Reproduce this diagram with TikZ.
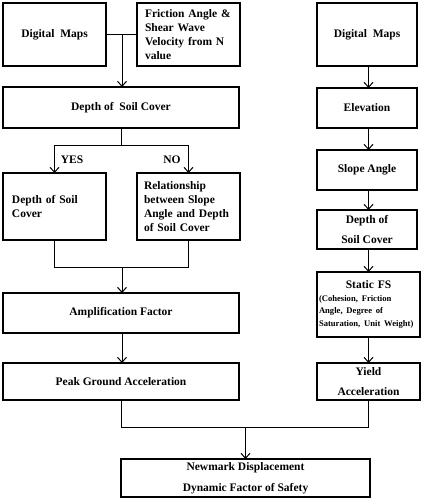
\documentclass[tikz,border=0pt]{standalone}
\usepackage{fontspec}
\setmainfont{Liberation Serif}
\usetikzlibrary{arrows.meta}
\begin{document}
\begin{tikzpicture}[x=1pt,y=-1pt,
  box/.style={draw, line width=1.1pt, inner sep=0pt, outer sep=0pt,
    font=\fontsize{11.5}{13.8}\selectfont\bfseries, align=center},
  lbox/.style={box, align=left},
  conn/.style={line width=1pt},
  arr/.style={conn, -{Straight Barb[length=5pt,width=9pt,line width=1pt]}},
  lbl/.style={font=\fontsize{11.5}{13.8}\selectfont\bfseries, inner sep=0pt}
]
\useasboundingbox (0,0) rectangle (422,500);
% left column
\node[box, minimum width=103, minimum height=63] (dm1) at (54.5,34.5) {Digital\ \ Maps};
\node[lbox, minimum width=103, minimum height=63, text width=87] (fa) at (188.5,34.5)
  {Friction Angle \&\\Shear Wave\\Velocity from N\\value};
\node[box, minimum width=236, minimum height=41] (dsc) at (121,107.5) {Depth of\ \ Soil Cover};
\node[lbox, minimum width=103, minimum height=67, text width=85] (ds2) at (54.5,206.5)
  {Depth of Soil\\Cover};
\node[lbox, minimum width=103, minimum height=67, text width=89] (rel) at (188.5,206.5)
  {Relationship\\between Slope\\Angle and Depth\\of Soil Cover};
\node[box, minimum width=236, minimum height=40] (amp) at (121,313) {Amplification Factor};
\node[box, minimum width=236, minimum height=37] (pga) at (121,381.5) {Peak Ground Acceleration};
% right column
\node[box, minimum width=100, minimum height=63] (dm2) at (367,34.5) {Digital\ \ Maps};
\node[box, minimum width=100, minimum height=40] (elev) at (367,108) {Elevation};
\node[box, minimum width=100, minimum height=40] (slope) at (367,170) {Slope Angle};
\node[box, minimum width=100, minimum height=39] (ds3) at (367,229.5) {Depth of\\[7pt]Soil Cover};
\node[lbox, minimum width=103, minimum height=65, text width=99] (sfs) at (368.5,304.5)
  {\makebox[99pt][c]{Static FS}\\[2pt]
   {\fontsize{8.6}{11.5}\selectfont (Cohesion, Friction\\Angle, Degree of\\Saturation, Unit Weight)}};
\node[box, minimum width=103, minimum height=37] (ya) at (368.5,381.5) {Yield\\[7pt]Acceleration};
% bottom
\node[box, minimum width=249, minimum height=38] (nm) at (245.5,478) {Newmark Displacement\\[7pt]Dynamic Factor of Safety};
% junction coordinates
\coordinate (j1) at (122,35);
\coordinate (j2) at (121,145);
\coordinate (j2l) at (54.5,145);
\coordinate (j2r) at (188.5,145);
\coordinate (j3l) at (54.5,267);
\coordinate (j3r) at (188.5,267);
\coordinate (j3) at (122,267);
\coordinate (j4l) at (121,427);
\coordinate (j4r) at (368.5,427);
\coordinate (j4) at (245.5,427);
% connectors
\draw[conn] (dm1.east) -- (fa.west);
\draw[arr] (j1) -- (j1 |- dsc.north);
\draw[conn] (dsc.south -| j2) -- (j2);
\draw[conn] (j2l) -- (j2r);
\draw[arr] (j2l) -- (ds2.north);
\draw[arr] (j2r) -- (rel.north);
\draw[conn] (ds2.south) -- (j3l) -- (j3r) -- (rel.south);
\draw[arr] (j3) -- (j3 |- amp.north);
\draw[arr] (amp.south -| j3) -- (j3 |- pga.north);
\draw[conn] (pga.south -| j4l) -- (j4l) -- (j4r) -- (ya.south);
\draw[arr] (j4) -- (nm.north);
\draw[arr] (dm2.south -| j4r) -- (elev.north -| j4r);
\draw[arr] (elev.south -| j4r) -- (slope.north -| j4r);
\draw[arr] (slope.south -| j4r) -- (ds3.north -| j4r);
\draw[arr] (ds3.south -| j4r) -- (sfs.north -| j4r);
\draw[arr] (sfs.south -| j4r) -- (ya.north -| j4r);
% labels
\node[lbl] (yes) at (72,160) {YES};
\node[lbl] (no) at (172,160) {NO};
\end{tikzpicture}
\end{document}
